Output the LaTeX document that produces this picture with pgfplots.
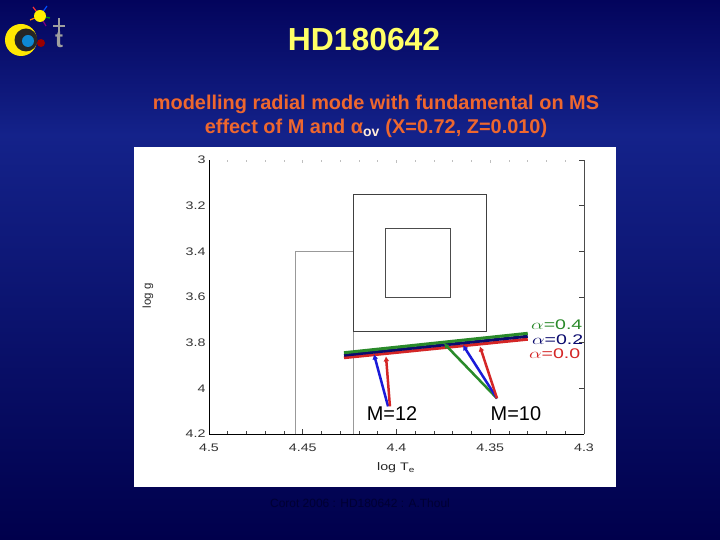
\documentclass[border=0pt]{standalone}
\usepackage{fontspec}
\setmainfont{Liberation Sans}
\newfontfamily\chartfont[FakeStretch=1.3]{Liberation Sans}
\usepackage{graphicx}
\usepackage{pgfplots}
\pgfplotsset{compat=1.18}
\usetikzlibrary{arrows.meta}
\definecolor{bgtop}{HTML}{03045C}
\definecolor{bgmid}{HTML}{14228A}
\definecolor{bgbot}{HTML}{00004C}
\definecolor{titleyellow}{HTML}{FFFF66}
\definecolor{suborange}{HTML}{EE672E}
\definecolor{agreen}{HTML}{2A8A2A}
\definecolor{anavy}{HTML}{0B0B6E}
\definecolor{ared}{HTML}{D42626}
\definecolor{ablue}{HTML}{1A1AD8}
\begin{document}
\begin{tikzpicture}
\path[use as bounding box] (0,0) rectangle (720bp,540bp);
\shade[top color=bgtop, bottom color=bgmid] (0,405bp) rectangle (720bp,540bp);
\shade[top color=bgmid, bottom color=bgbot] (0,0) rectangle (720bp,405.5bp);
% white panel
\fill[white] (134bp,53bp) rectangle (616bp,393bp);
% logo (approximation)
\draw[red!80, line width=1.2bp] (40bp,524bp) -- (33bp,533bp);
\draw[blue!70!cyan, line width=1.2bp] (40bp,524bp) -- (47bp,534bp);
\draw[green!60!black, line width=1.2bp] (40bp,524bp) -- (50bp,522bp);
\draw[violet, line width=1.2bp] (40bp,524bp) -- (46bp,514bp);
\draw[orange, line width=1.2bp] (40bp,524bp) -- (30bp,520bp);
\fill[yellow] (40bp,524bp) circle (6bp);
\fill[yellow!90!orange] (21bp,500bp) circle (16bp);
\fill[black!85] (26bp,500bp) circle (11.5bp);
\fill[cyan!70!blue] (28bp,499bp) circle (6bp);
\fill[red!60!black] (41bp,497bp) circle (4bp);
\node[text=gray!75, font=\bfseries\fontsize{24}{26}\selectfont] at (59bp,500bp) {t};
\draw[gray!75, line width=1.5bp] (59bp,508bp) -- (59bp,522bp);
\draw[gray!75, line width=1.2bp] (53bp,514bp) -- (65bp,514bp);
% titles
\node[text=titleyellow, font=\bfseries\fontsize{32}{38}\selectfont] at (364bp,500bp) {HD180642};
\node[text=suborange, font=\bfseries\fontsize{20}{24}\selectfont] at (376bp,436bp) {modelling radial mode with fundamental on MS};
\node[text=suborange, font=\bfseries\fontsize{20}{24}\selectfont] at (376bp,412bp) {effect of M and α\textsubscript{\color{white!85!orange}ov} (X=0.72, Z=0.010)};
% footer
\node[text=black!80!blue, font=\fontsize{12}{14}\selectfont] at (360bp,37bp) {Corot 2006 : HD180642 : A.Thoul};
% top ticks (faint)
\begin{axis}[
  at={(209bp,106bp)}, anchor=south west,
  scale only axis, width=375bp, height=274bp,
  xmin=4.3, xmax=4.5, ymin=3, ymax=4.2,
  x dir=reverse, y dir=reverse,
  axis line style={draw=none},
  xtick={4.3,4.35,4.4,4.45,4.5}, minor x tick num=4,
  xticklabels={}, ytick=\empty,
  xtick pos=top, tick align=inside,
  major tick length=3bp, minor tick length=2bp,
  tick style={black!25, line width=0.6bp},
]
\end{axis}
\begin{axis}[
  at={(209bp,106bp)}, anchor=south west,
  scale only axis, width=375bp, height=274bp,
  xmin=4.3, xmax=4.5, ymin=3, ymax=4.2,
  x dir=reverse, y dir=reverse,
  clip=false,
  axis line style={draw=none},
  xtick={4.3,4.35,4.4,4.45,4.5},
  xticklabels={4.3,4.35,4.4,4.45,4.5},
  minor x tick num=4,
  ytick={3,3.2,3.4,3.6,3.8,4,4.2},
  yticklabels={3,3.2,3.4,3.6,3.8,4,4.2},
  xtick pos=bottom, ytick pos=right, yticklabel pos=left,
  tick align=inside,
  major tick length=5bp, minor tick length=3bp,
  tick style={black!75, line width=0.6bp},
  ticklabel style={font=\chartfont\fontsize{11}{13}\selectfont, text=black!80},
  xticklabel style={yshift=-6bp},
]
% axis frame (left, bottom, right)
\draw[black, line width=0.9bp] (axis cs:4.5,3) -- (axis cs:4.5,4.2) -- (axis cs:4.3,4.2);
\draw[black!70, line width=0.9bp] (axis cs:4.3,4.2) -- (axis cs:4.3,3);
% error boxes
\addplot[black!40, line width=0.8bp, mark=none] coordinates {(4.454,4.2) (4.454,3.4) (4.423,3.4) (4.423,4.2)};
\addplot[black!75, line width=0.9bp, mark=none, line cap=rect] coordinates {(4.423,3.15) (4.352,3.15) (4.352,3.75) (4.423,3.75) (4.423,3.15)};
\addplot[black!70, line width=0.9bp, mark=none, line cap=rect] coordinates {(4.406,3.3) (4.371,3.3) (4.371,3.6) (4.406,3.6) (4.406,3.3)};
% tracks
\addplot[ared, line width=3bp, mark=none] coordinates {(4.428,3.866) (4.330,3.785)};
\addplot[anavy, line width=3bp, mark=none] coordinates {(4.428,3.855) (4.330,3.772)};
\addplot[agreen, line width=3bp, mark=none] coordinates {(4.428,3.844) (4.330,3.759)};
% arrows M=12
\addplot[ablue, line width=2.5bp, mark=none, -{Latex[length=5bp,width=6bp]}] coordinates {(4.4045,4.079) (4.412,3.851)};
\addplot[ared, line width=2.5bp, mark=none, -{Latex[length=5bp,width=6bp]}] coordinates {(4.4035,4.079) (4.4056,3.860)};
% arrows M=10
\addplot[agreen, line width=2.5bp, mark=none, -{Latex[length=5bp,width=6bp]}] coordinates {(4.3464,4.044) (4.3747,3.803)};
\addplot[ablue, line width=2.5bp, mark=none, -{Latex[length=5bp,width=6bp]}] coordinates {(4.3464,4.044) (4.3645,3.811)};
\addplot[ared, line width=2.5bp, mark=none, -{Latex[length=5bp,width=6bp]}] coordinates {(4.3464,4.044) (4.3555,3.816)};
% labels
\node[font=\fontsize{20}{22}\selectfont] at (axis cs:4.4024,4.11) {M=12};
\node[font=\fontsize{20}{22}\selectfont] at (axis cs:4.3363,4.11) {M=10};
\node[anchor=west, inner sep=0, text=agreen, font=\fontsize{14}{16}\selectfont] at (axis cs:4.3283,3.721) {\scalebox{1.4}[1]{$\alpha$=0.4}};
\node[anchor=west, inner sep=0, text=anavy, font=\fontsize{14}{16}\selectfont] at (axis cs:4.3278,3.785) {\scalebox{1.4}[1]{$\alpha$=0.2}};
\node[anchor=west, inner sep=0, text=ared, font=\fontsize{14}{16}\selectfont] at (axis cs:4.3294,3.850) {\scalebox{1.4}[1]{$\alpha$=0.0}};
\end{axis}
% axis labels
\node[text=black!85, font=\chartfont\fontsize{11}{13}\selectfont] at (396bp,72bp) {log T\textsubscript{e}};
\node[text=black!85, rotate=90, font=\fontsize{11.5}{13}\selectfont] at (148bp,244bp) {log g};
\end{tikzpicture}
\end{document}
